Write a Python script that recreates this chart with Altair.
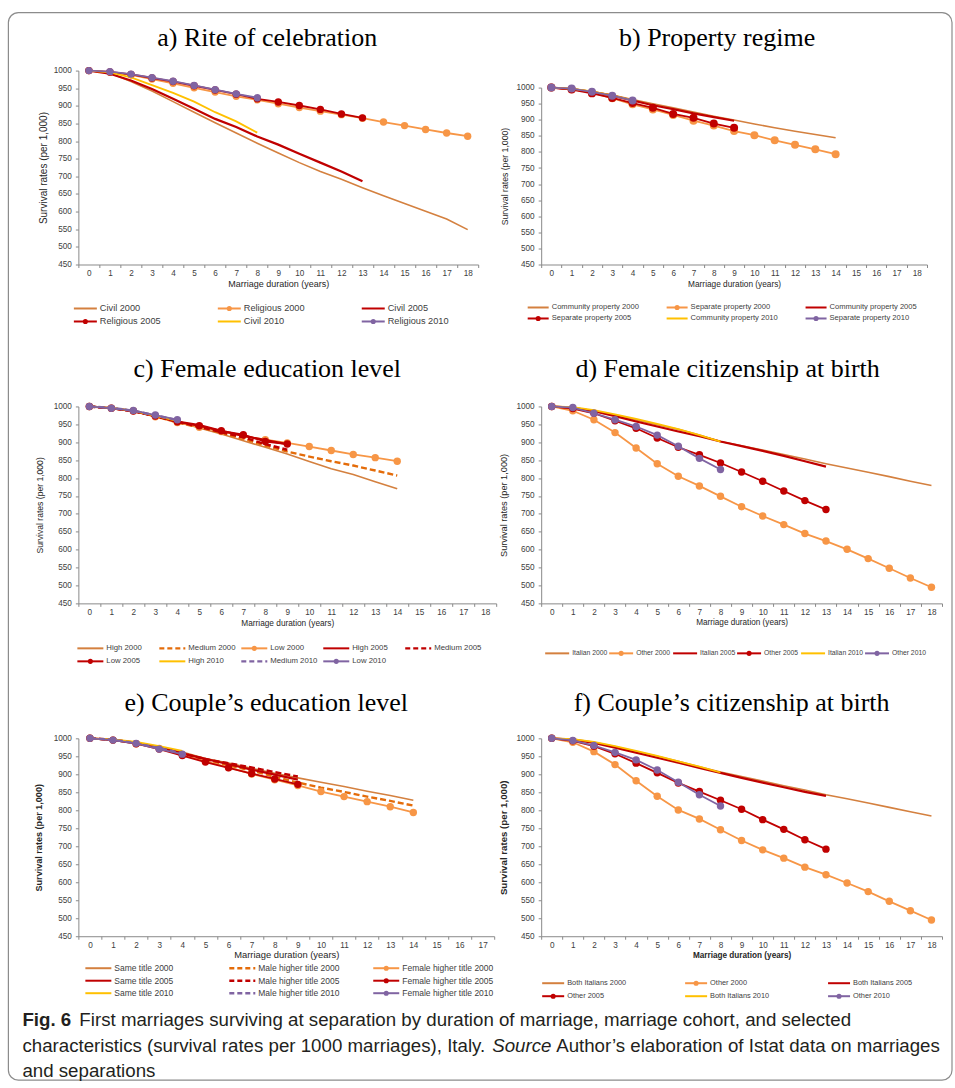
import altair as alt
import pandas as pd

# ---------------- data (survival rates per 1,000, by marriage duration) ----------------
# a) Rite of celebration
a_civil_2000 = [1000, 993, 969, 942, 912, 882, 852, 823, 794, 766, 739, 714, 692, 668, 645, 623, 601, 579, 549]
a_religious_2000 = [1000, 995, 988, 976, 964, 951, 939, 927, 917, 906, 895, 885, 875, 865, 854, 844, 833, 823, 814]
a_civil_2005 = [1000, 991, 972, 948, 920, 892, 863, 840, 813, 790, 764, 739, 714, 686]
a_religious_2005 = [1000, 996, 989, 979, 969, 957, 945, 933, 920, 911, 901, 890, 877, 866]
a_civil_2010 = [1000, 995, 981, 959, 937, 912, 882, 856, 824]
a_religious_2010 = [1000, 997, 990, 980, 970, 958, 946, 934, 923]

# b) Property regime
b_community_2000 = [1000, 996, 988, 977, 963, 950, 937, 924, 911, 899, 887, 875, 864, 854, 844]
b_separate_2000 = [1000, 995, 984, 967, 948, 932, 915, 897, 882, 865, 852, 836, 822, 808, 793]
b_community_2005 = [1000, 995, 987, 975, 960, 945, 933, 920, 908, 897]
b_separate_2005 = [1000, 994, 982, 968, 952, 937, 918, 906, 888, 875]
b_community_2010 = [1000, 997, 988, 976, 961]
b_separate_2010 = [1000, 997, 987, 975, 960]

# c) Female education level
c_high_2000 = [1000, 995, 987, 974, 957, 940, 923, 904, 886, 867, 846, 826, 810, 790, 770]
c_medium_2000 = [1000, 995, 987, 974, 955, 942, 926, 909, 891, 874, 860, 847, 835, 821, 807]
c_low_2000 = [1000, 995, 988, 971, 955, 942, 930, 918, 907, 898, 888, 877, 866, 857, 847]
c_high_2005 = [1000, 995, 987, 973, 958, 948, 932, 918, 906, 895]
c_medium_2005 = [1000, 995, 987, 973, 957, 943, 928, 914, 895, 879]
c_low_2005 = [1000, 995, 987, 973, 957, 946, 932, 921, 902, 895]
c_high_2010 = [1000, 996, 988, 974, 960]
c_medium_2010 = [1000, 996, 988, 975, 962]
c_low_2010 = [1000, 995, 989, 976, 963]

# d) Female citizenship at birth
d_italian_2000 = [1000, 997, 988, 976, 962, 949, 936, 920, 902, 890, 878, 866, 853, 840, 828, 816, 804, 791, 779]
d_other_2000 = [1000, 988, 963, 927, 884, 840, 805, 778, 749, 720, 694, 670, 645, 624, 601, 575, 548, 521, 495]
d_italian_2005 = [1000, 996, 987, 973, 958, 944, 930, 917, 902, 889, 876, 862, 847, 832]
d_other_2005 = [1000, 994, 981, 960, 939, 912, 886, 865, 842, 817, 791, 764, 737, 712]
d_italian_2010 = [1000, 998, 990, 978, 965, 951, 937, 920, 902]
d_other_2010 = [1000, 997, 981, 963, 944, 920, 889, 855, 824]

# e) Couple's education level
e_same_2000 = [1000, 996, 988, 976, 962, 944, 931, 917, 903, 890, 878, 866, 853, 841, 828]
e_male_2000 = [1000, 996, 987, 973, 957, 940, 925, 910, 893, 877, 863, 851, 838, 826, 813]
e_female_2000 = [1000, 995, 985, 972, 954, 936, 919, 901, 885, 869, 852, 838, 824, 810, 794]
e_same_2005 = [1000, 996, 987, 974, 958, 943, 928, 913, 899, 885]
e_male_2005 = [1000, 996, 988, 975, 958, 942, 931, 919, 906, 894]
e_female_2005 = [1000, 995, 985, 970, 952, 934, 918, 902, 887, 872]
e_same_2010 = [1000, 997, 990, 978, 965]
e_male_2010 = [1000, 996, 986, 973, 958]
e_female_2010 = [1000, 995, 986, 970, 956]

# f) Couple's citizenship at birth
f_both_2000 = [1000, 998, 989, 977, 963, 950, 936, 921, 906, 894, 881, 868, 856, 843, 832, 820, 808, 796, 784]
f_other_2000 = [1000, 989, 963, 927, 882, 839, 801, 776, 746, 716, 690, 667, 642, 621, 598, 574, 547, 521, 495]
f_both_2005 = [1000, 996, 987, 974, 960, 946, 932, 918, 904, 890, 877, 864, 851, 840]
f_other_2005 = [1000, 993, 978, 957, 931, 904, 876, 852, 828, 803, 774, 747, 718, 692]
f_both_2010 = [1000, 998, 990, 978, 965, 951, 936, 921, 905]
f_other_2010 = [1000, 994, 980, 961, 940, 912, 878, 843, 812]

y_ticks = [450, 500, 550, 600, 650, 700, 750, 800, 850, 900, 950, 1000]

# ---------------- styles ----------------
SANS = "Liberation Sans, Arial, sans-serif"
SERIF = "Liberation Serif, Times New Roman, serif"

STY = {
    "s00": {"color": "#D4803F", "kind": "line", "w": 1.6},
    "m00": {"color": "#F79646", "kind": "marker", "w": 1.8},
    "d00": {"color": "#E46C0A", "kind": "dash", "w": 2.4},
    "s05": {"color": "#C00000", "kind": "line", "w": 2.2},
    "m05": {"color": "#C00000", "kind": "marker", "w": 1.8},
    "d05": {"color": "#C00000", "kind": "dash", "w": 2.4},
    "s10": {"color": "#FFC000", "kind": "line", "w": 1.8},
    "m10": {"color": "#8064A2", "kind": "marker", "w": 1.8},
    "d10": {"color": "#8064A2", "kind": "dash", "w": 2.4},
}


def panel(series, nx, width, height, gap, title, tdx, toff, leg, ax, msize=55):
    xs = alt.X(
        "x:O",
        scale=alt.Scale(domain=list(range(nx)), paddingInner=0, paddingOuter=0),
        axis=alt.Axis(
            title="Marriage duration (years)", labelAngle=0, tickBand="extent",
            labelFontSize=ax["lab"], titleFontSize=ax["xt"], titleFontWeight=ax["xw"],
            labelPadding=2, titlePadding=ax["xtp"], tickSize=3,
        ),
    )
    ys = alt.Y(
        "v:Q",
        scale=alt.Scale(domain=[450, 1000], nice=False, zero=False, range=[height, gap]),
        axis=alt.Axis(
            title="Survival rates (per 1,000)", values=y_ticks, format="d",
            labelFontSize=ax["lab"], titleFontSize=ax["yt"], titleFontWeight=ax["yw"],
            labelPadding=4, titlePadding=ax["ytp"], tickSize=3,
        ),
    )
    layers = []
    for name, vals, sk in series:
        st = STY[sk]
        df = pd.DataFrame({"x": list(range(len(vals))), "v": vals})
        base = alt.Chart(df)
        lk = dict(color=st["color"], strokeWidth=st["w"])
        if st["kind"] == "dash":
            lk["strokeDash"] = [6, 3]
        layers.append(base.mark_line(**lk).encode(x=xs, y=ys))
        if st["kind"] == "marker":
            layers.append(
                base.mark_point(shape="circle", filled=True, size=msize, color=st["color"], opacity=1)
                .encode(x=xs, y=ys)
            )
    main = alt.layer(*layers)

    ldf = pd.DataFrame({
        "name": [s[0] for s in series],
        "col": [p[0] for p in leg["pos"]],
        "row": [p[1] for p in leg["pos"]],
        "color": [STY[s[2]]["color"] for s in series],
        "kind": [STY[s[2]]["kind"] for s in series],
    })
    L = leg["L"]
    lx = alt.X("col:Q", scale=alt.Scale(domain=[0, 1], range=[leg["c0"], leg["c0"] + leg["sp"]]), axis=None)
    ly = alt.Y("row:Q", scale=alt.Scale(domain=[0, 1], range=[height + leg["r0"], height + leg["r0"] + leg["rg"]]), axis=None)
    col = alt.Color("color:N", scale=None, legend=None)
    lb = alt.Chart(ldf)
    sym = lb.transform_filter("datum.kind != 'dash'").mark_point(
        shape="M-1,0L1,0", filled=False, size=L * L, strokeWidth=2, opacity=1
    ).encode(x=lx, y=ly, color=col)
    dsh = lb.transform_filter("datum.kind == 'dash'").mark_point(
        shape="M-1,0L1,0", filled=False, size=L * L, strokeWidth=2.4, strokeDash=[5, 3], opacity=1
    ).encode(x=lx, y=ly, color=col)
    dot = lb.transform_filter("datum.kind == 'marker'").mark_point(
        shape="circle", filled=True, size=26, opacity=1
    ).encode(x=lx, y=ly, color=col)
    txt = lb.mark_text(
        align="left", baseline="middle", dx=L / 2 + 3, fontSize=leg["fs"], font=SANS, color="#404040"
    ).encode(x=lx, y=ly, text="name:N")
    legend = alt.layer(sym, dsh, dot, txt)

    return alt.layer(main, legend).resolve_scale(x="independent", y="independent").properties(
        width=width, height=height,
        title=alt.TitleParams(
            title, font=SERIF, fontSize=26, fontWeight="normal", color="black",
            anchor="middle", frame="group", dx=tdx, offset=toff,
        ),
    )


grid3 = [(0, 0), (1, 0), (2, 0), (0, 1), (1, 1), (2, 1)]

pa = panel(
    [("Civil 2000", a_civil_2000, "s00"), ("Religious 2000", a_religious_2000, "m00"),
     ("Civil 2005", a_civil_2005, "s05"), ("Religious 2005", a_religious_2005, "m05"),
     ("Civil 2010", a_civil_2010, "s10"), ("Religious 2010", a_religious_2010, "m10")],
    19, 400, 194, 0, "a) Rite of celebration", -11, 15,
    dict(pos=grid3, c0=7, sp=144, L=23, r0=44, rg=13, fs=9.2),
    dict(lab=8.2, yt=10, xt=9, yw="normal", xw="normal", ytp=5, xtp=3),
)
pb = panel(
    [("Community property 2000", b_community_2000, "s00"), ("Separate property 2000", b_separate_2000, "m00"),
     ("Community property 2005", b_community_2005, "s05"), ("Separate property 2005", b_separate_2005, "m05"),
     ("Community property 2010", b_community_2010, "s10"), ("Separate property 2010", b_separate_2010, "m10")],
    19, 386, 194, 17, "b) Property regime", -17, 19.5,
    dict(pos=grid3, c0=-3, sp=139, L=21, r0=43, rg=11, fs=7.6),
    dict(lab=8.2, yt=8.7, xt=8.3, yw="normal", xw="normal", ytp=6.5, xtp=3),
    msize=64,
)
pc = panel(
    [("High 2000", c_high_2000, "s00"), ("Medium 2000", c_medium_2000, "d00"), ("Low 2000", c_low_2000, "m00"),
     ("High 2005", c_high_2005, "s05"), ("Medium 2005", c_medium_2005, "d05"), ("Low 2005", c_low_2005, "m05"),
     ("High 2010", c_high_2010, "s10"), ("Medium 2010", c_medium_2010, "d10"), ("Low 2010", c_low_2010, "m10")],
    19, 418, 204, 7, "c) Female education level", -20, 17.5,
    dict(pos=[(0, 0), (1, 0), (2, 0), (3, 0), (4, 0), (0, 1), (1, 1), (2, 1), (3, 1)],
         c0=12, sp=82, L=26, r0=45, rg=13, fs=7.8),
    dict(lab=8.2, yt=8.6, xt=8.3, yw="normal", xw="normal", ytp=8.5, xtp=3),
)
pd_ = panel(
    [("Italian 2000", d_italian_2000, "s00"), ("Other 2000", d_other_2000, "m00"),
     ("Italian 2005", d_italian_2005, "s05"), ("Other 2005", d_other_2005, "m05"),
     ("Italian 2010", d_italian_2010, "s10"), ("Other 2010", d_other_2010, "m10")],
    19, 401, 204, 7, "d) Female citizenship at birth", -14, 17.5,
    dict(pos=[(0, 0), (1, 0), (2, 0), (3, 0), (4, 0), (5, 0)], c0=16, sp=64, L=24, r0=50, rg=13, fs=6.8),
    dict(lab=8.2, yt=9.2, xt=8.2, yw="normal", xw="normal", ytp=7.2, xtp=3),
)
pe = panel(
    [("Same title 2000", e_same_2000, "s00"), ("Male higher title 2000", e_male_2000, "d00"),
     ("Female higher title 2000", e_female_2000, "m00"),
     ("Same title 2005", e_same_2005, "s05"), ("Male higher title 2005", e_male_2005, "d05"),
     ("Female higher title 2005", e_female_2005, "m05"),
     ("Same title 2010", e_same_2010, "s10"), ("Male higher title 2010", e_male_2010, "d10"),
     ("Female higher title 2010", e_female_2010, "m10")],
    18, 416, 198, 0, "e) Couple\u2019s education level", -20, 17,
    dict(pos=[(0, 0), (1, 0), (2, 0), (0, 1), (1, 1), (2, 1), (0, 2), (1, 2), (2, 2)],
         c0=20, sp=144, L=26, r0=32, rg=12.5, fs=8.5),
    dict(lab=8.2, yt=9.1, xt=9.4, yw="bold", xw="normal", ytp=9.2, xtp=2),
)
pf = panel(
    [("Both Italians 2000", f_both_2000, "s00"), ("Other 2000", f_other_2000, "m00"),
     ("Both Italians 2005", f_both_2005, "s05"), ("Other 2005", f_other_2005, "m05"),
     ("Both Italians 2010", f_both_2010, "s10"), ("Other 2010", f_other_2010, "m10")],
    19, 401, 198, 0, "f) Couple\u2019s citizenship at birth", -10, 17,
    dict(pos=grid3, c0=12, sp=143, L=22, r0=47, rg=13, fs=7.4),
    dict(lab=8.2, yt=9.7, xt=8.2, yw="bold", xw="bold", ytp=7, xtp=3),
)

# ---------------- caption + frame (caption cell origin sits at x=78, y=1071) ----------------
cap = alt.Chart(pd.DataFrame({"k": [0]}))
CAP_SIZE = 18.7


def seg(text, x, y, weight="normal", style="normal"):
    return cap.mark_text(
        align="left", baseline="middle", font=SANS, fontSize=CAP_SIZE, fontWeight=weight,
        fontStyle=style, color="#231F20", text=text,
    ).encode(x=alt.value(x), y=alt.value(y))


frame = cap.mark_rect(filled=False, color="#8C8C8C", strokeWidth=1.2, cornerRadius=10).encode(
    x=alt.value(-70), x2=alt.value(874), y=alt.value(-1059), y2=alt.value(9)
)
caption = alt.layer(
    frame,
    seg("Fig. 6", -56, -51, weight="bold"),
    seg("First marriages surviving at separation by duration of marriage, marriage cohort, and selected", 1, -51),
    seg("characteristics (survival rates per 1000 marriages), Italy.", -56, -25),
    seg("Source", 414, -25, style="italic"),
    seg("Author\u2019s elaboration of Istat data on marriages", 478, -25),
    seg("and separations", -56, 0),
).properties(width=418, height=5)

chart = alt.concat(
    pa, pb, pc, pd_, pe, pf, caption,
    columns=2, align="each", bounds="flush", spacing={"row": 135, "column": 45},
).properties(
    padding={"left": 7.4, "top": 11.4, "right": 2, "bottom": 6}
).configure_view(stroke=None).configure_axis(
    domainColor="#898989", tickColor="#898989", labelColor="#404040", titleColor="#262626",
    labelFont=SANS, titleFont=SANS, grid=False, domainWidth=1, tickWidth=1,
)

chart.save("out.html", embed_options={"renderer": "svg", "actions": False})
